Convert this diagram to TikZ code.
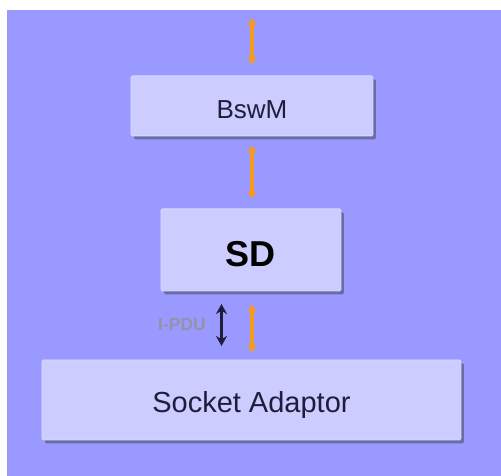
\documentclass[tikz,border=0pt]{standalone}
\usepackage{fontspec}
\setmainfont{Liberation Sans}
\usetikzlibrary{arrows.meta,shadows}
\definecolor{bgblue}{HTML}{9999FF}
\definecolor{boxfill}{HTML}{CCCCFF}
\definecolor{boxedge}{HTML}{DADAFF}
\definecolor{shadowblue}{HTML}{66669C}
\definecolor{arroworange}{HTML}{F59A1E}
\definecolor{pdugrey}{HTML}{9292A8}
\definecolor{inkdark}{HTML}{1E1E3C}
\tikzset{
  block/.style={draw=boxedge,line width=0.9pt,fill=boxfill,rounded corners=1.5pt,inner sep=0pt,
    text=inkdark,anchor=north west,text depth=0pt,
    drop shadow={shadow xshift=3pt,shadow yshift=-3.5pt,fill=shadowblue,opacity=0.9}},
  oarrow/.style={draw=arroworange,line width=3.4pt,{Stealth[length=8pt,width=10pt]}-{Stealth[length=8pt,width=10pt]}},
  karrow/.style={draw=inkdark,line width=2.4pt,{Stealth[length=10pt,width=11pt]}-{Stealth[length=10pt,width=11pt]}}
}
\begin{document}
\begin{tikzpicture}[x=1pt,y=-1pt]
\useasboundingbox (0,0) rectangle (501,476);
\fill[white] (0,0) rectangle (501,476);
\fill[bgblue] (7,10) rectangle (501,476);
\node[block,minimum width=242pt,minimum height=60pt,text height=25pt,font=\fontsize{26}{28}\selectfont] (bswm) at (130.5,75.5) {BswM};
\node[block,minimum width=180pt,minimum height=82pt,text height=33pt,font=\bfseries\fontsize{36}{40}\selectfont,text=black] (sd) at (160.5,208.5) {SD};
\node[block,minimum width=419pt,minimum height=80pt,text height=26pt,font=\fontsize{29}{32}\selectfont] (sock) at (41.5,359.5) {Socket Adaptor};
\coordinate (top) at (252,18);
\coordinate (pdutop) at (221.5,304);
\coordinate (pdubot) at (221.5,346);
\draw[oarrow,shorten >=11pt] (top) -- (bswm.north -| top);
\draw[oarrow,shorten <=9pt,shorten >=10pt] (bswm.south -| top) -- (sd.north -| top);
\draw[oarrow,shorten <=13pt,shorten >=7pt] (sd.south -| top) -- (sock.north -| top);
\draw[karrow] (pdutop) -- (pdubot);
\node[font=\bfseries\fontsize{17.5}{20}\selectfont,text=pdugrey,anchor=center] (pdu) at (182,325) {I-PDU};
\end{tikzpicture}
\end{document}
